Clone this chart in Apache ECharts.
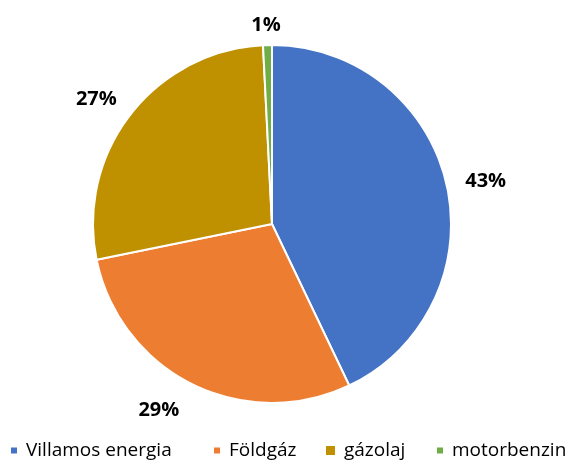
<!DOCTYPE html>
<html><head><meta charset="utf-8">
<script src="https://cdn.jsdelivr.net/npm/echarts@6/dist/echarts.min.js"></script>
<style>html,body{margin:0;padding:0;background:#fff}#c{width:577px;height:464px}</style>
</head><body><div id="c"></div>
<script>
const categories = ['Villamos energia', 'Földgáz', 'gázolaj', 'motorbenzin'];
const values = [42.9, 28.9, 27.4, 0.8];
const colors = ['#4472C4', '#ED7D31', '#BF9000', '#70AD47'];

// label placement tweaks (style config, not data)
const labelDistance = [37, 39, 37, 21];
const labelShift = [[-2, 5], [-11, -9], [0, 8], [4, 1]];
const legendLeft = [9, 212, 324, 435];
const legendIcon = [8, 8, 11, 8];

const chart = echarts.init(document.getElementById('c'));
chart.setOption({
  animation: false,
  color: colors,
  legend: categories.map((n, i) => ({
    top: 441,
    left: legendLeft[i],
    padding: 0,
    itemWidth: legendIcon[i], itemHeight: legendIcon[i],
    icon: 'rect',
    textStyle: { fontFamily: 'Open Sans', fontSize: 19, color: '#000', padding: [0, 0, 0, 3] },
    data: [n]
  })),
  series: [{
    type: 'pie',
    center: [272, 224],
    radius: [0, 179],
    startAngle: 90,
    clockwise: true,
    itemStyle: { borderColor: '#fff', borderWidth: 2 },
    label: {
      show: true, position: 'outside',
      formatter: p => Math.round(p.value) + '%',
      fontFamily: 'Open Sans', fontWeight: 'bold', fontSize: 20, color: '#000'
    },
    labelLine: { show: false, length: 37, length2: 0 },
    labelLayout: p => ({ align: 'center', verticalAlign: 'middle', dx: labelShift[p.dataIndex][0], dy: labelShift[p.dataIndex][1] }),
    data: categories.map((n, i) => ({ name: n, value: values[i], labelLine: { length: labelDistance[i] } }))
  }]
});
</script></body></html>
